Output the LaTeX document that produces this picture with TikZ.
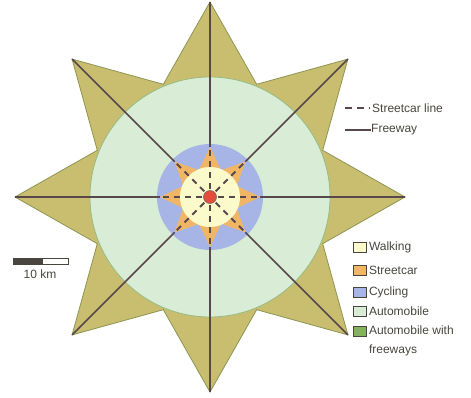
\documentclass[tikz,border=0pt]{standalone}
\usepackage{fontspec}
\setmainfont{Liberation Sans}
\usepackage{xcolor}
\usepackage{tikz}
\usetikzlibrary{positioning}
\definecolor{starolive}{RGB}{201,189,112}
\definecolor{staredge}{RGB}{140,150,82}
\definecolor{autogreen}{RGB}{216,236,214}
\definecolor{autoedge}{RGB}{150,188,130}
\definecolor{cycleblue}{RGB}{166,181,229}
\definecolor{streetorange}{RGB}{241,181,102}
\definecolor{walkyellow}{RGB}{251,250,202}
\definecolor{freewaygreen}{RGB}{132,178,92}
\definecolor{roadgray}{RGB}{88,72,76}
\definecolor{centrered}{RGB}{229,76,60}
\definecolor{legendgray}{RGB}{72,70,62}

\begin{document}
\begin{tikzpicture}[
    x=1pt, y=-1pt,
    zone/.style={line width=0.8pt},
    freeway/.style={draw=roadgray, line width=1.7pt},
    streetcar/.style={draw=roadgray, line width=1.8pt, dash pattern=on 6pt off 5pt},
    swatch/.style={draw=legendgray, line width=0.6pt, minimum width=13pt, minimum height=10pt, inner sep=0pt},
    legtext/.style={font=\fontsize{12}{19}\selectfont, text=legendgray, inner sep=0pt, align=left}
]
\useasboundingbox (0,0) rectangle (471,398);

% zones round the centre
\begin{scope}[shift={(210,197)}]
  \filldraw[zone, fill=starolive, draw=staredge] (90:195)
    \foreach \k in {0,...,7}{ -- ({112.5+45*\k}:122) -- ({135+45*\k}:195)} -- cycle;
  \filldraw[zone, fill=autogreen, draw=autoedge] (0,0) circle (120);
  \fill[cycleblue] (0,0) circle (53);
  \fill[streetorange] (90:50)
    \foreach \k in {0,...,7}{ -- ({112.5+45*\k}:29) -- ({135+45*\k}:50)} -- cycle;
  \fill[walkyellow] (0,0) circle (30);
  % freeways and streetcar lines
  \foreach \a in {0,45,...,315}{
    \draw[freeway] (\a:50) -- (\a:195);
    \draw[streetcar] (\a:8) -- (\a:50);
  }
  \filldraw[fill=centrered, draw=roadgray!80, line width=0.6pt] (0,0) circle (6.5);
\end{scope}

% line legend
\coordinate (streetcarstart) at (345,108);
\coordinate (freewaystart) at (345,130);
\node[legtext, anchor=west] (streetcarlabel) at (372,108) {Streetcar line};
\node[legtext, anchor=west] (freewaylabel) at (371,130) {Freeway};
\draw[streetcar, line width=1.4pt, dash pattern=on 7pt off 5pt] (streetcarstart) -- ([xshift=-2pt]streetcarlabel.west);
\draw[freeway, line width=1.4pt] (freewaystart) -- (freewaylabel.west);

% zone legend
\node[swatch, fill=walkyellow] (walkbox) at (360,247) {};
\node[swatch, fill=streetorange] (streetcarbox) at (360,270) {};
\node[swatch, fill=cycleblue] (cyclebox) at (360,292) {};
\node[swatch, fill=autogreen] (autobox) at (360,311) {};
\node[swatch, fill=freewaygreen] (autofreebox) at (360,331) {};
\node[legtext, right=2pt of walkbox] {Walking};
\node[legtext, right=2pt of streetcarbox] {Streetcar};
\node[legtext, right=2pt of cyclebox] {Cycling};
\node[legtext, right=2pt of autobox] {Automobile};
\node[legtext, anchor=north west] at ([xshift=2pt, yshift=0.5pt]autofreebox.north east) {Automobile with\\freeways};

% scale bar
\fill[legendgray] (13,258) rectangle (43,264);
\draw[legendgray, line width=0.8pt] (13,258) rectangle (68,264);
\node[legtext] (scalelabel) at (40,274) {10 km};
\end{tikzpicture}
\end{document}
